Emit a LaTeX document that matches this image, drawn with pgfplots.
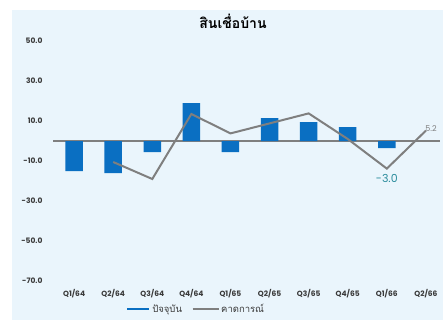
\documentclass[border=0pt]{standalone}
\usepackage{pgfplots}
\pgfplotsset{compat=1.18}
\usepackage{fontspec}
\setmainfont{Poppins}
\newfontfamily\thaifont[Script=Thai]{Loma}
\definecolor{bg}{HTML}{EAF5FC}
\definecolor{barblue}{HTML}{0A6FC2}
\definecolor{linegray}{HTML}{7F7F7F}
\definecolor{tickc}{HTML}{3A3A3A}
\definecolor{tealc}{HTML}{2A8C9C}
\begin{document}
\begin{tikzpicture}[x=1pt,y=1pt]
\path[use as bounding box] (0,0) rectangle (443,-320);
\fill[bg] (12,-10) rectangle (443,-320);
\node[font=\thaifont\bfseries\fontsize{14}{15}\selectfont, text=black] at (233,-21) {สินเชื่อบ้าน};
\begin{axis}[at={(53pt,-281pt)}, anchor=south west, scale only axis,
  width=387pt, height=240pt,
  xmin=-0.54, xmax=9.36, ymin=-70, ymax=50,
  axis line style={draw=none}, major tick length=0pt,
  ytick={-70,-50,-30,-10,10,30,50},
  yticklabel style={/pgf/number format/.cd, fixed, fixed zerofill, precision=1, /tikz/.cd, font=\bfseries\fontsize{7.5}{8}\selectfont, text=tickc, xshift=-7pt},
  /pgf/number format/assume math mode=true,
  xtick={0,...,9},
  xticklabels={Q1/64,Q2/64,Q3/64,Q4/64,Q1/65,Q2/65,Q3/65,Q4/65,Q1/66,Q2/66},
  xticklabel style={font=\bfseries\fontsize{7.5}{8}\selectfont, text=tickc, yshift=-5pt},
  legend style={at={(0.37,-0.117)}, anchor=center, draw=none, fill=none, legend columns=2,
    font=\thaifont\fontsize{9.5}{10}\selectfont, text=tickc,
    /tikz/every even column/.append style={column sep=8pt}},
  clip=false]
\draw[linegray, line width=1.5pt] (axis cs:-0.54,0) -- (axis cs:9.36,0);
\addplot[ybar, bar width=17.5pt, fill=barblue, draw=none, forget plot] coordinates {
 (0,-15) (1,-16) (2,-5.5) (3,19) (4,-5.5) (5,11.5) (6,9.5) (7,7) (8,-3.5)};
\addplot[linegray, line width=2pt, forget plot] coordinates {
 (1,-10.5) (2,-19) (3,13.5) (4,3.8) (5,8.8) (6,13.8) (7,1) (8,-13.8) (9,5.2)};
\addlegendimage{legend image code/.code={\draw[barblue, line width=2pt] (0pt,0pt) -- (22pt,0pt);}}
\addlegendentry{ปัจจุบัน}
\addlegendimage{legend image code/.code={\draw[linegray, line width=1.2pt] (0pt,0pt) -- (26pt,0pt);}}
\addlegendentry{คาดการณ์}
\node[font=\fontsize{11}{12}\selectfont, text=tealc] at (axis cs:8,-18.5) {-3.0};
\node[font=\fontsize{8}{9}\selectfont, text=linegray] at (axis cs:9.13,6.3) {5.2};
\end{axis}
\end{tikzpicture}
\end{document}
